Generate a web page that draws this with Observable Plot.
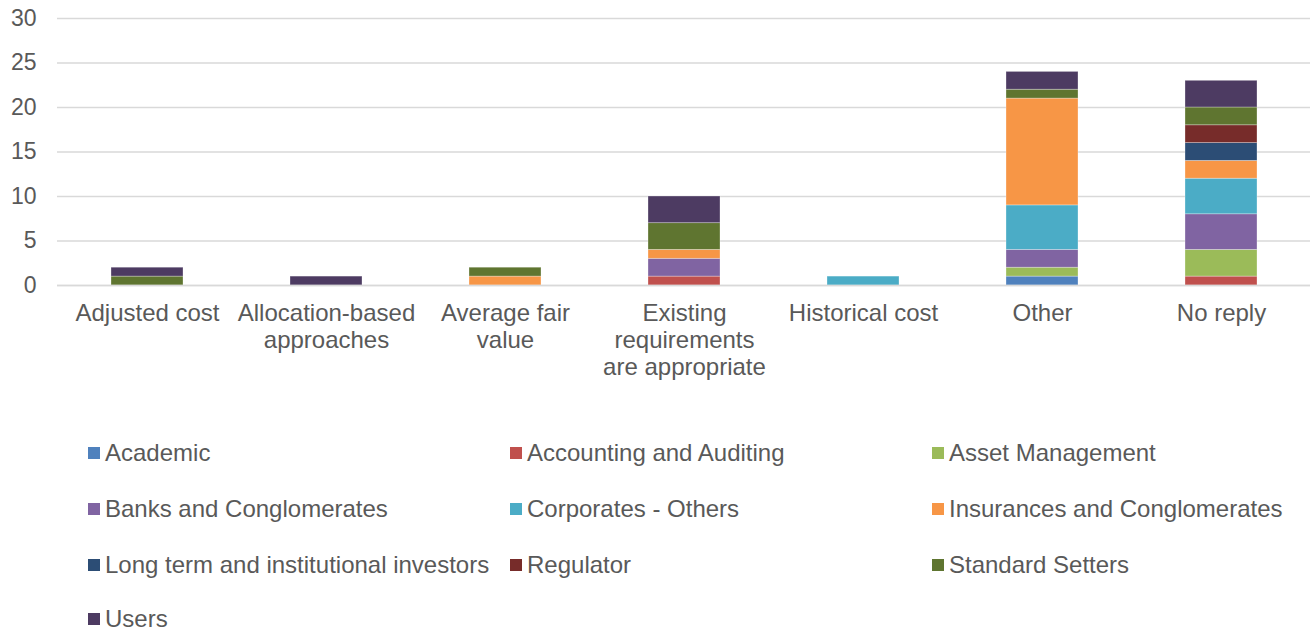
<!DOCTYPE html>
<html>
<head>
<meta charset="utf-8">
<script src="https://cdn.jsdelivr.net/npm/d3@7"></script>
<script src="https://cdn.jsdelivr.net/npm/@observablehq/plot@0.6"></script>
<style>
  body { margin: 0; background: #fff; font-family: "Liberation Sans", Arial, sans-serif; overflow: hidden; }
  #chart { width: 1312px; }
  #legend { position: relative; width: 1312px; height: 231px; }
  .item { position: absolute; display: flex; align-items: center; font-size: 24px; line-height: 22px; color: #595959; white-space: nowrap; }
  .sw { width: 12px; height: 12px; margin-right: 5px; }
</style>
</head>
<body>
<div id="chart"></div>
<div id="legend"></div>
<script>
const categories = ["Adjusted cost", "Allocation-based approaches", "Average fair value", "Existing requirements are appropriate", "Historical cost", "Other", "No reply"];
const tickLabels = ["Adjusted cost", "Allocation-based\napproaches", "Average fair\nvalue", "Existing\nrequirements\nare appropriate", "Historical cost", "Other", "No reply"];
const seriesNames = ["Academic", "Accounting and Auditing", "Asset Management", "Banks and Conglomerates", "Corporates - Others", "Insurances and Conglomerates", "Long term and institutional investors", "Regulator", "Standard Setters", "Users"];
const seriesColors = ["#4f81bd", "#c0504d", "#9bbb59", "#8064a2", "#4bacc6", "#f79646", "#2c4d75", "#772c2a", "#5f7530", "#4d3b62"];
// values per series, in category order
const academic    = [0, 0, 0, 0, 0, 1, 0];
const accounting  = [0, 0, 0, 1, 0, 0, 1];
const assetMgmt   = [0, 0, 0, 0, 0, 1, 3];
const banks       = [0, 0, 0, 2, 0, 2, 4];
const corporates  = [0, 0, 0, 0, 1, 5, 4];
const insurances  = [0, 0, 1, 1, 0, 12, 2];
const longTerm    = [0, 0, 0, 0, 0, 0, 2];
const regulator   = [0, 0, 0, 0, 0, 0, 2];
const standard    = [1, 0, 1, 3, 0, 1, 2];
const users       = [1, 1, 0, 3, 0, 2, 3];
const yTicks = [0, 5, 10, 15, 20, 25, 30];

const seriesValues = [academic, accounting, assetMgmt, banks, corporates, insurances, longTerm, regulator, standard, users];
const data = [];
seriesNames.forEach((s, i) => {
  categories.forEach((c, j) => {
    if (seriesValues[i][j] > 0) data.push({category: c, series: s, value: seriesValues[i][j]});
  });
});
const labelOf = new Map(categories.map((c, i) => [c, tickLabels[i]]));

const chart = Plot.plot({
  width: 1312,
  height: 400,
  marginLeft: 57,
  marginRight: 2,
  marginTop: 18,
  marginBottom: 115,
  style: {fontFamily: "Liberation Sans, Arial, sans-serif", fontSize: "23px", color: "#595959"},
  x: {domain: categories, paddingInner: 0.6, paddingOuter: 0.3, label: null},
  y: {domain: [0, 30], label: null},
  color: {domain: seriesNames, range: seriesColors},
  marks: [
    Plot.gridY(yTicks, {stroke: "#d9d9d9", strokeOpacity: 1, strokeWidth: 1.5}),
    Plot.axisY(yTicks, {tickSize: 0, tickPadding: 21, fontSize: 23, fill: "#595959", label: null}),
    Plot.axisX({tickSize: 0, tickPadding: 16, fontSize: 24, fill: "#595959", lineHeight: 1.125, tickFormat: d => labelOf.get(d), label: null}),
    Plot.barY(data, {x: "category", y: "value", fill: "series", stroke: "#ffffff", strokeOpacity: 0.4, strokeWidth: 0.75}),
    Plot.ruleY([0], {stroke: "#d9d9d9", strokeWidth: 1.5})
  ]
});
document.getElementById("chart").appendChild(chart);

const legend = document.getElementById("legend");
const colX = [88, 510, 932];
const rowY = [453, 509, 565, 619];
seriesNames.forEach((s, i) => {
  const col = i % 3, row = Math.floor(i / 3);
  const el = document.createElement("div");
  el.className = "item";
  el.style.left = colX[col] + "px";
  el.style.top = (rowY[row] - 400 - 11) + "px";
  el.innerHTML = `<span class="sw" style="background:${seriesColors[i]}"></span><span>${s}</span>`;
  legend.appendChild(el);
});
</script>
</body>
</html>
